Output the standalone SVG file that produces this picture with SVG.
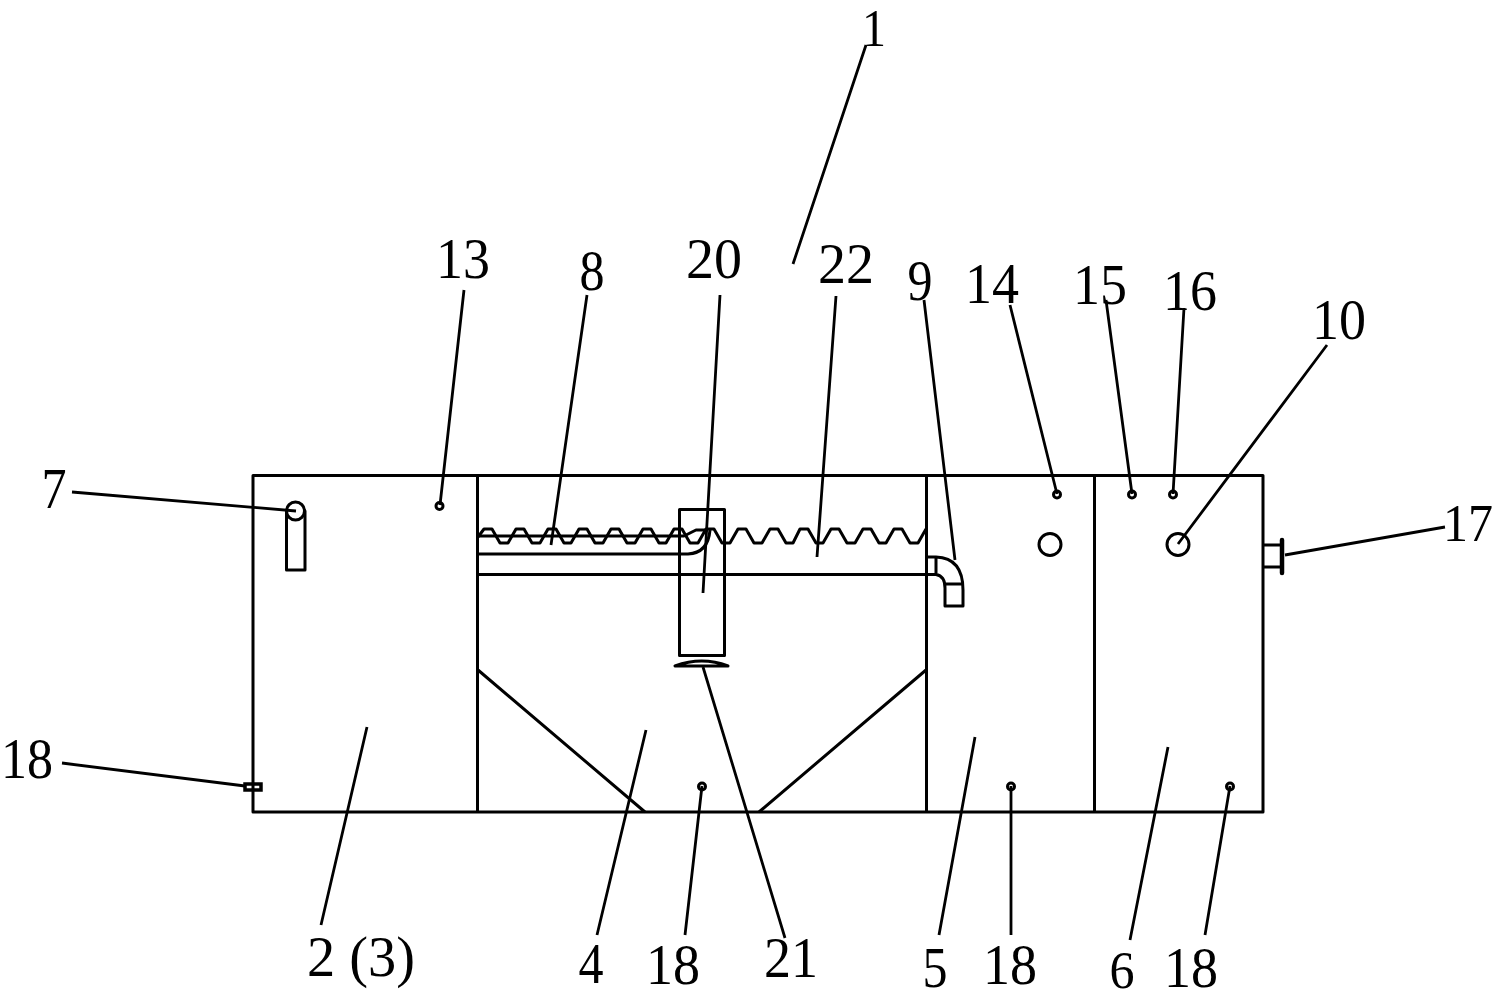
<svg xmlns="http://www.w3.org/2000/svg" width="1496" height="1000" viewBox="0 0 1496 1000">
<style>
.s{fill:none;stroke:#000;stroke-width:3;stroke-linejoin:round}
.l{fill:none;stroke:#000;stroke-width:2.800}
.d{fill:#fff;stroke:#000;stroke-width:3}
text{font-family:"Liberation Serif","Times New Roman",serif;font-size:58px;fill:#000;text-anchor:middle}
.e{font-size:52px}
</style>
<rect width="1496" height="1000" fill="#fff"/>
<g id="tank">
<rect class="s" x="253" y="475.500" width="1010" height="336.500"/>
<path class="s" d="M477.500 475V812M926.500 475V812M1094.500 475V812M478 670L645 812M926 670L759 812"/>
</g>
<g id="wave">
<path class="s" d="M478 537L484 529H492L500 543H508L516 529H524L532 543H540L548 529H556L564 543H571L579 529H587L595 543H603L611 529H619L627 543H635L643 529H651L659 543H666L674 529H682L690 543H698L706 529H714L722 543H730L738 529H746L754 543H762L770 529H778L786 543H793L800 529H808L816 543H823L831 529H839L847 543H855L863 529H871L879 543H886L894 529H902L910 543H918L926 529"/>
</g>
<g id="pipe-8">
<path class="s" d="M478 536H684L696 530H708M478 554H688Q708 553 710 530"/>
</g>
<g id="pipe-9">
<path class="s" d="M478 574.500H936Q945 576 945 588V606H963V590Q963 558 936 557H927M936 557V574M945 584H963"/>
</g>
<g id="column-20">
<rect class="s" x="679.500" y="509.500" width="45" height="146"/>
</g>
<g id="cone-21">
<path class="s" d="M675 666H728Q702 656 675 666Z"/>
</g>
<g id="part-7">
<rect class="s" x="286.500" y="511" width="18.500" height="59"/>
<circle class="d" cx="295.500" cy="511" r="9"/>
</g>
<g id="valve-18">
<rect x="245" y="784" width="16" height="6" fill="none" stroke="#000" stroke-width="3.500"/>
</g>
<g id="outlet-17">
<path class="s" d="M1264 545H1281M1264 567H1281"/>
<path d="M1282 540V573" fill="none" stroke="#000" stroke-width="4.500" stroke-linecap="round"/>
</g>
<g id="ports">
<circle class="d" cx="439.500" cy="506" r="3.500"/>
<circle class="d" cx="1057" cy="494.500" r="3.500"/>
<circle class="d" cx="1132" cy="494.500" r="3.500"/>
<circle class="d" cx="1173" cy="494.500" r="3.500"/>
<circle class="d" cx="702" cy="786.500" r="3.500"/>
<circle class="d" cx="1011" cy="786.500" r="3.500"/>
<circle class="d" cx="1230" cy="786.500" r="3.500"/>
<circle class="d" cx="1050" cy="544.500" r="11"/>
<circle class="d" cx="1178" cy="544.500" r="11"/>
</g>
<g id="connectors">
<path class="l" d="M866 45L793 264M464 290L440 505M587 295L551 545M720 295L703 593M836 296L817 557M924 300L955 560M1010 305L1057 494M1106 300L1132 494M1184 308L1173 494M1327 345L1178 544M72 492L296 511M62 763L245 786M1285 555L1445 527M367 727L321 925M646 730L597 935M702 786L685 935M703 667L785 938M975 737L939 935M1011 786V935M1168 747L1130 940M1230 786L1205 935"/>
</g>
<g id="labels">
<text class="e" x="874" y="46" textLength="24" lengthAdjust="spacingAndGlyphs">1</text>
<text x="463" y="278" textLength="54" lengthAdjust="spacingAndGlyphs">13</text>
<text x="592" y="290" textLength="25" lengthAdjust="spacingAndGlyphs">8</text>
<text x="714" y="278" textLength="56" lengthAdjust="spacingAndGlyphs">20</text>
<text x="846" y="283" textLength="56" lengthAdjust="spacingAndGlyphs">22</text>
<text x="920" y="300" textLength="25" lengthAdjust="spacingAndGlyphs">9</text>
<text x="992" y="303" textLength="54" lengthAdjust="spacingAndGlyphs">14</text>
<text x="1100" y="304" textLength="54" lengthAdjust="spacingAndGlyphs">15</text>
<text x="1190" y="310" textLength="54" lengthAdjust="spacingAndGlyphs">16</text>
<text x="1339" y="339" textLength="54" lengthAdjust="spacingAndGlyphs">10</text>
<text x="54" y="508" textLength="25" lengthAdjust="spacingAndGlyphs">7</text>
<text class="e" x="1468" y="541" textLength="50" lengthAdjust="spacingAndGlyphs">17</text>
<text x="27" y="778" textLength="52" lengthAdjust="spacingAndGlyphs">18</text>
<text x="361" y="976" textLength="108" lengthAdjust="spacingAndGlyphs">2 (3)</text>
<text x="591" y="983" textLength="25" lengthAdjust="spacingAndGlyphs">4</text>
<text x="673" y="984" textLength="54" lengthAdjust="spacingAndGlyphs">18</text>
<text x="791" y="977" textLength="54" lengthAdjust="spacingAndGlyphs">21</text>
<text x="935" y="987" textLength="25" lengthAdjust="spacingAndGlyphs">5</text>
<text x="1010" y="984" textLength="54" lengthAdjust="spacingAndGlyphs">18</text>
<text class="e" x="1122" y="988" textLength="25" lengthAdjust="spacingAndGlyphs">6</text>
<text x="1191" y="987" textLength="54" lengthAdjust="spacingAndGlyphs">18</text>
</g>
</svg>
